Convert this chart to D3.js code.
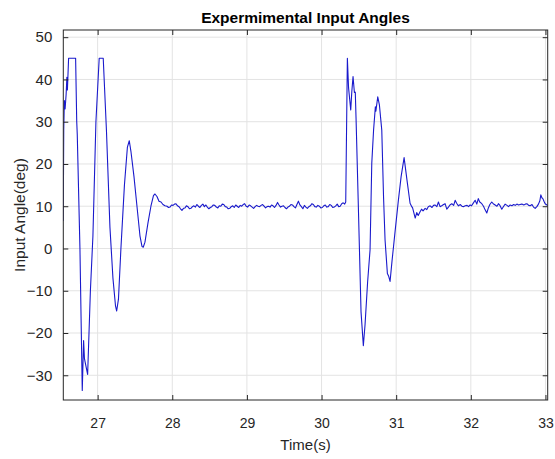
<!DOCTYPE html>
<html>
<head>
<meta charset="utf-8">
<script src="https://cdn.jsdelivr.net/npm/d3@7"></script>
<style>
  body { margin: 0; background: #fff; }
  text { font-family: "Liberation Sans", Arial, sans-serif; }
</style>
</head>
<body>
<div id="chart"></div>
<script>
// time (s) / input angle (deg), split in segments
const firstBurst = [
  [26.539, 6.5], [26.546, 28], [26.554, 35], [26.564, 33], [26.578, 36.5],
  [26.588, 40.5], [26.595, 37.5], [26.611, 45], [26.705, 45], [26.720, 30],
  [26.727, 27], [26.763, 0], [26.794, -33.6], [26.812, -21.8], [26.823, -26],
  [26.834, -27], [26.866, -29.8], [26.903, -10], [26.937, 3], [26.977, 30],
  [27.021, 45], [27.075, 45], [27.118, 28], [27.165, 5], [27.205, -7],
  [27.239, -13.5], [27.255, -14.8], [27.279, -12], [27.312, 0], [27.359, 15],
  [27.399, 24], [27.424, 25.5], [27.446, 23], [27.487, 17], [27.527, 10],
  [27.567, 3], [27.594, 0.5], [27.611, 0.3], [27.634, 1.5], [27.674, 6],
  [27.714, 10], [27.748, 12.5], [27.768, 12.9], [27.795, 12.3], [27.822, 11.2],
  [27.849, 11.0], [27.875, 10.4], [27.902, 10.1]
];

const firstSettle = [
  [27.93, 10.0], [27.95, 9.7], [27.97, 9.8], [27.99, 10.3], [28.01, 10.2], [28.03, 10.5],
  [28.05, 10.6], [28.07, 10.1], [28.09, 9.9], [28.11, 9.4], [28.13, 9.0], [28.15, 9.5],
  [28.17, 9.6], [28.19, 10.1], [28.21, 9.9], [28.23, 9.4], [28.25, 9.5], [28.27, 9.9],
  [28.29, 10.1], [28.31, 9.8], [28.33, 10.4], [28.35, 10.0], [28.37, 9.7], [28.39, 10.2],
  [28.41, 10.5], [28.43, 9.9], [28.45, 10.3], [28.47, 9.8], [28.49, 9.4], [28.51, 9.7],
  [28.53, 9.9], [28.55, 10.3], [28.57, 10.2], [28.59, 9.8], [28.61, 9.6], [28.63, 10.1],
  [28.65, 10.0], [28.67, 10.5], [28.69, 10.4], [28.71, 9.9], [28.73, 9.8], [28.75, 9.4],
  [28.77, 9.5], [28.79, 9.9], [28.81, 10.1], [28.83, 9.7], [28.85, 10.3], [28.87, 10.0],
  [28.89, 9.7], [28.91, 10.2], [28.93, 10.0], [28.95, 10.4], [28.97, 10.6], [28.99, 10.0],
  [29.01, 9.8], [29.03, 10.3], [29.05, 10.1], [29.07, 9.8], [29.09, 9.5], [29.11, 9.9],
  [29.13, 10.2], [29.15, 10.0], [29.17, 9.9], [29.19, 10.2], [29.21, 10.4], [29.23, 10.0],
  [29.25, 9.6], [29.27, 9.9], [29.29, 10.0], [29.31, 9.8], [29.33, 10.3], [29.35, 10.1],
  [29.37, 9.7], [29.39, 10.2], [29.41, 10.9], [29.43, 10.3], [29.45, 9.8], [29.47, 10.0],
  [29.49, 10.1], [29.51, 9.7], [29.53, 9.4], [29.55, 9.8], [29.57, 10.0], [29.59, 10.4],
  [29.61, 10.3], [29.63, 9.9], [29.65, 9.6], [29.67, 10.4], [29.69, 11.2], [29.71, 10.3],
  [29.73, 9.9], [29.75, 9.4], [29.77, 10.2], [29.79, 9.8], [29.81, 9.5], [29.83, 9.9],
  [29.85, 10.1], [29.87, 10.6], [29.89, 10.4], [29.91, 9.9], [29.93, 9.8], [29.95, 10.2],
  [29.97, 10.0], [29.99, 9.6], [30.01, 9.7], [30.03, 10.1], [30.05, 10.3], [30.07, 9.8],
  [30.09, 9.9], [30.11, 10.4], [30.13, 10.2], [30.15, 9.7], [30.17, 9.8], [30.19, 10.1],
  [30.21, 10.5], [30.23, 9.9], [30.25, 10.0], [30.27, 10.6], [30.29, 10.8], [30.31, 10.5],
  [30.324, 11.0]
];

const secondBurst = [
  [30.346, 45], [30.362, 38], [30.391, 32.8], [30.405, 37], [30.422, 40.7],
  [30.440, 36.9], [30.452, 37], [30.462, 31], [30.493, 10], [30.529, -15],
  [30.560, -23], [30.583, -18], [30.617, -8], [30.650, -0.3], [30.673, 20.2],
  [30.697, 28], [30.721, 33.5], [30.728, 32.5], [30.753, 35.9], [30.775, 34],
  [30.807, 28], [30.831, 12], [30.851, 2], [30.882, -5.9], [30.898, -6.5],
  [30.918, -7.8], [30.944, -3], [30.985, 4], [31.030, 11.5], [31.066, 17],
  [31.106, 21.5], [31.146, 16], [31.186, 10.7], [31.209, 9.9], [31.220, 9.6],
  [31.255, 7.2], [31.275, 8.5], [31.295, 7.8]
];

const secondSettle = [
  [31.32, 8.7], [31.34, 9.3], [31.36, 8.9], [31.388, 9.5], [31.41, 9.2], [31.43, 9.9],
  [31.455, 10.1], [31.48, 9.7], [31.50, 10.2], [31.52, 10.3], [31.545, 9.9], [31.566, 11.0],
  [31.588, 9.9], [31.61, 10.1], [31.635, 10.4], [31.655, 10.6], [31.678, 9.3], [31.70, 9.8],
  [31.72, 10.3], [31.745, 10.6], [31.77, 10.2], [31.79, 11.4], [31.81, 10.7], [31.834, 10.1],
  [31.86, 10.4], [31.88, 10.0], [31.90, 9.9], [31.925, 10.1], [31.95, 10.2], [31.97, 9.9],
  [31.99, 10.3], [32.01, 10.1], [32.035, 10.8], [32.058, 11.4], [32.08, 10.5], [32.10, 11.8],
  [32.12, 11.0], [32.147, 10.6], [32.17, 10.0], [32.19, 9.2], [32.214, 8.4], [32.235, 9.6],
  [32.255, 10.4], [32.28, 11.0], [32.30, 10.6], [32.326, 10.3], [32.35, 10.0], [32.37, 10.6],
  [32.39, 10.2], [32.415, 9.3], [32.44, 10.0], [32.46, 10.5], [32.485, 10.2], [32.505, 9.9],
  [32.527, 10.3], [32.55, 10.1], [32.575, 10.4], [32.595, 10.2], [32.617, 10.5], [32.64, 10.3],
  [32.66, 10.4], [32.684, 10.5], [32.71, 10.3], [32.73, 10.5], [32.751, 10.6], [32.775, 10.2],
  [32.795, 10.1], [32.82, 10.4], [32.84, 9.8], [32.862, 9.5], [32.885, 9.9], [32.906, 10.5],
  [32.925, 11.3], [32.938, 12.7], [32.952, 12.0], [32.965, 11.8], [32.98, 11.2], [32.996, 10.6],
  [33.019, 10.3], [33.035, 10.2]
];

const xTicks = [27, 28, 29, 30, 31, 32, 33];
const yTicks = [-30, -20, -10, 0, 10, 20, 30, 40, 50];

const W = 555, H = 459;
const padL = 63.3, padR = 547.7, padT = 30, padB = 400;

const svg = d3.select('#chart').append('svg')
  .attr('width', W)
  .attr('height', H);

const x = d3.scaleLinear().domain([26.54, 33.03]).range([padL, padR]);
const y = d3.scaleLinear().domain([-35.85, 51.7]).range([padB, padT]);

// grid
svg.append('g').selectAll('line')
  .data(xTicks).enter().append('line')
  .attr('x1', d => x(d)).attr('x2', d => x(d))
  .attr('y1', padT).attr('y2', padB)
  .attr('stroke', '#e3e3e3').attr('stroke-width', 1);

svg.append('g').selectAll('line')
  .data(yTicks).enter().append('line')
  .attr('y1', d => y(d)).attr('y2', d => y(d))
  .attr('x1', padL).attr('x2', padR)
  .attr('stroke', '#e3e3e3').attr('stroke-width', 1);

// data line
svg.append('clipPath').attr('id', 'clip')
  .append('rect')
  .attr('x', padL).attr('y', padT)
  .attr('width', padR - padL).attr('height', padB - padT);

const allPoints = firstBurst.concat(firstSettle, secondBurst, secondSettle);

const line = d3.line()
  .x(d => x(d[0]))
  .y(d => y(d[1]));

svg.append('path')
  .datum(allPoints)
  .attr('clip-path', 'url(#clip)')
  .attr('d', line)
  .attr('fill', 'none')
  .attr('stroke', '#1a1acc')
  .attr('stroke-width', 1.1)
  .attr('stroke-linejoin', 'round');

// axes (matlab style box, ticks inside)
const tickLen = 5;
const axisColor = '#262626';
const fmt = d => (d < 0 ? '\u2212' + Math.abs(d) : String(d));

const xAxis = d3.axisBottom(x).tickValues(xTicks).tickFormat(fmt).tickSizeInner(-tickLen).tickSizeOuter(0).tickPadding(18);
const yAxis = d3.axisLeft(y).tickValues(yTicks).tickFormat(fmt).tickSizeInner(-tickLen).tickSizeOuter(0).tickPadding(11);
const xTop = d3.axisTop(x).tickValues(xTicks).tickSizeInner(-tickLen).tickSizeOuter(0).tickFormat('');
const yRight = d3.axisRight(y).tickValues(yTicks).tickSizeInner(-tickLen).tickSizeOuter(0).tickFormat('');

const styleAxis = (g, size) => {
  g.select('.domain').remove();
  g.selectAll('line').attr('stroke', axisColor);
  g.selectAll('text')
    .attr('fill', '#262626')
    .style('font-size', size + 'px')
    .style('font-family', '"Liberation Sans", Arial, sans-serif');
};

svg.append('g').attr('transform', `translate(0,${padB})`).call(xAxis).call(styleAxis, 14);
svg.append('g').attr('transform', `translate(${padL},0)`).call(yAxis).call(styleAxis, 15);
svg.append('g').attr('transform', `translate(0,${padT})`).call(xTop).call(styleAxis, 14);
svg.append('g').attr('transform', `translate(${padR},0)`).call(yRight).call(styleAxis, 14);

svg.append('rect')
  .attr('x', padL).attr('y', padT)
  .attr('width', padR - padL).attr('height', padB - padT)
  .attr('fill', 'none')
  .attr('stroke', axisColor)
  .attr('stroke-width', 1);

// labels
svg.append('text')
  .attr('x', (padL + padR) / 2).attr('y', 23)
  .attr('text-anchor', 'middle')
  .style('font-size', '15.5px').style('font-weight', 'bold')
  .attr('fill', '#000')
  .text('Expermimental Input Angles');

svg.append('text')
  .attr('x', (padL + padR) / 2).attr('y', 450)
  .attr('text-anchor', 'middle')
  .style('font-size', '15px')
  .attr('fill', '#262626')
  .text('Time(s)');

svg.append('text')
  .attr('transform', `translate(25,${(padT + padB) / 2}) rotate(-90)`)
  .attr('text-anchor', 'middle')
  .style('font-size', '15.5px')
  .attr('fill', '#262626')
  .text('Input Angle(deg)');
</script>
</body>
</html>
